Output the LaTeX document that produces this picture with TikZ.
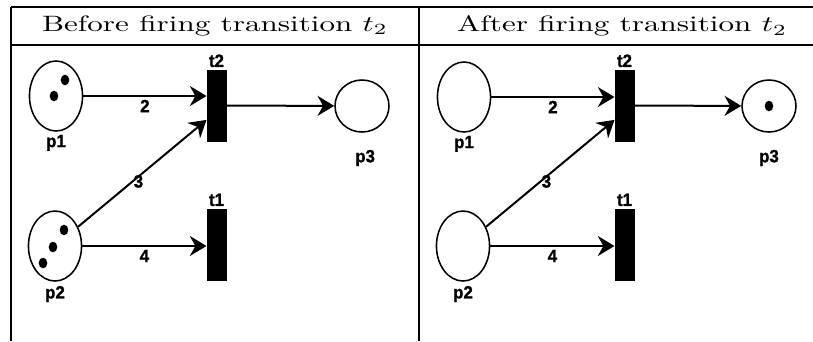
\documentclass[tikz,border=0pt]{standalone}
\usepackage{fontspec}
\usepackage{graphicx}
\usetikzlibrary{positioning, shapes.geometric, arrows.meta, calc}
\newfontfamily\netfont[FakeStretch=0.95, FakeBold=1.2]{Liberation Sans}
\tikzset{
    place/.style={draw, ellipse, line width=0.7pt, minimum width=23.9pt, minimum height=31.5pt, inner sep=0pt},
    endplace/.style={place, minimum width=24.3pt, minimum height=23.4pt},
    trans/.style={draw, fill=black, rectangle, minimum width=8.6pt, minimum height=32pt, inner sep=0pt},
    netlabel/.style={font=\netfont\bfseries\fontsize{8}{9}\selectfont, inner sep=0pt},
    weight/.style={netlabel, midway, yshift=-4.5pt},
    arc/.style={-{Stealth[length=7.5pt, width=9pt, inset=2.5pt]}, line width=0.9pt},
    head/.style={font=\normalsize, inner sep=0pt},
    hrule/.style={line width=0.8pt},
    vrule/.style={line width=1.2pt}
}

\begin{document}
\begin{tikzpicture}[x=0.45pt, y=-0.45pt]
    \useasboundingbox (0,0) rectangle (813,341);

    % table frame
    \draw [hrule] (11,7) -- (813,7);
    \draw [hrule] (11,45) -- (813,45);
    \draw [vrule] (11,7) -- (11,341);
    \draw [vrule] (419,7) -- (419,341);
    \node [head] (hdrbefore) at (215,26) {\scalebox{1.4}[1]{Before firing transition $t_2$}};
    \node [head] (hdrafter) at (622,26) {\scalebox{1.4}[1]{After firing transition $t_2$}};

    % before firing
    \node [place] (bp1) at (56,96) {};
    \node [place] (bp2) at (55,246) {};
    \node [endplace] (bp3) at (362,106) {};
    \node [trans] (bt2) at (216.5,105.5) {};
    \node [trans] (bt1) at (216.5,244.5) {};
    \node [netlabel, below=1.2pt of bp1] (bp1lbl) {p1};
    \node [netlabel, below=1.7pt of bp2] (bp2lbl) {p2};
    \node [netlabel, below=7.5pt of bp3, xshift=1.4pt] (bp3lbl) {p3};
    \node [netlabel, above=0.9pt of bt2] (bt2lbl) {t2};
    \node [netlabel, above=0.9pt of bt1] (bt1lbl) {t1};
    \fill ($(bp1)+(9,-16)$) circle [x radius=4.3, y radius=5.3];
    \fill ($(bp1)+(-2,0)$) circle [x radius=4.3, y radius=5.3];
    \fill ($(bp2)+(9,-16)$) circle [x radius=4.3, y radius=5.3];
    \fill ($(bp2)+(-2,1)$) circle [x radius=4.3, y radius=5.3];
    \fill ($(bp2)+(-12,17)$) circle [x radius=4.3, y radius=5.3];

    \draw [arc] (bp1) -- (bp1 -| bt2.west) node [weight] {2};
    \draw [arc] (bt2) -- (bp3);
    \draw [arc] (bp2) -- ($(bt2.south west)!0.3!(bt2.north west)$) node [netlabel, pos=0.47, yshift=-2.2pt] {3};
    \draw [arc] (bp2) -- (bp2 -| bt1.west) node [weight] {4};

    % after firing
    \node [place] (ap1) at (464,97) {};
    \node [place] (ap2) at (463,246) {};
    \node [endplace] (ap3) at (769,106) {};
    \node [trans] (at2) at (624.5,105.5) {};
    \node [trans] (at1) at (624.5,244.5) {};
    \node [netlabel, below=1.2pt of ap1] (ap1lbl) {p1};
    \node [netlabel, below=1.7pt of ap2] (ap2lbl) {p2};
    \node [netlabel, below=7.5pt of ap3] (ap3lbl) {p3};
    \node [netlabel, above=0.9pt of at2] (at2lbl) {t2};
    \node [netlabel, above=0.9pt of at1] (at1lbl) {t1};
    \fill (ap3) circle [x radius=4.3, y radius=5.3];

    \draw [arc] (ap1) -- (ap1 -| at2.west) node [weight] {2};
    \draw [arc] (at2) -- (ap3);
    \draw [arc] (ap2) -- ($(at2.south west)!0.3!(at2.north west)$) node [netlabel, pos=0.47, yshift=-2.2pt] {3};
    \draw [arc] (ap2) -- (ap2 -| at1.west) node [weight] {4};
\end{tikzpicture}
\end{document}
